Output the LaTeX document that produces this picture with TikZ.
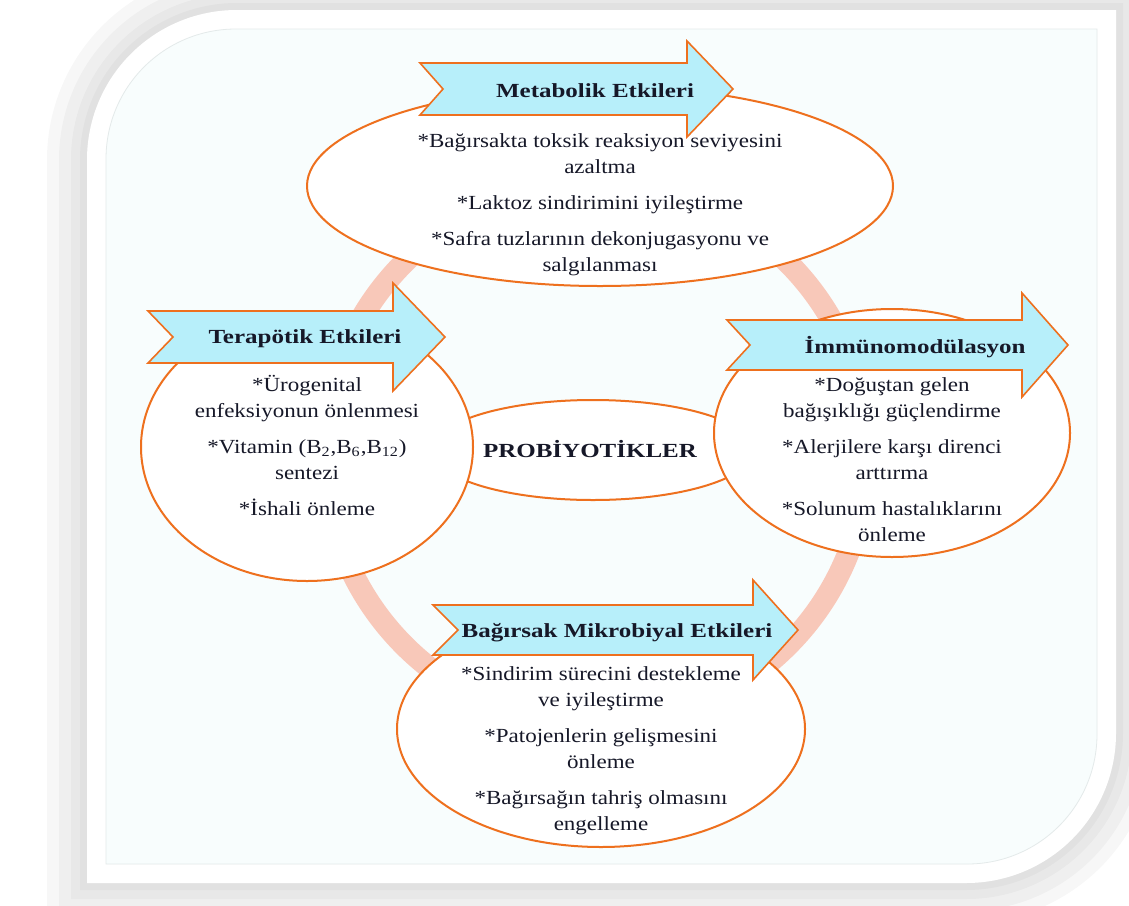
\documentclass[tikz,border=0pt]{standalone}
\usepackage{fontspec}
\setmainfont{Liberation Serif}[FakeStretch=1.15]
\newfontfamily\ttlfont{Liberation Serif}[FakeStretch=1.25]
\usetikzlibrary{shapes.geometric}
\definecolor{cardbg}{RGB}{248,253,253}
\definecolor{cardln}{RGB}{228,234,234}
\definecolor{ringc}{RGB}{248,200,185}
\definecolor{orl}{RGB}{238,112,30}
\definecolor{arrfill}{RGB}{183,239,250}
\definecolor{txtc}{RGB}{22,24,40}
\tikzset{
  ell/.style={ellipse, draw=orl, line width=1pt, fill=white, inner sep=0pt},
  arrowsh/.style={fill=arrfill, draw=orl, line width=0.8pt, line join=miter},
  ttl/.style={font=\ttlfont\bfseries, text=txtc, inner sep=0pt},
  body/.style={align=center, text=txtc, inner sep=0pt},
}
\newcommand\drawbigarrow[7]{%
  \draw[arrowsh] (#1,#5-#6) -- (#3,#5-#6) -- (#3,#5-#7) -- (#4,#5) -- (#3,#5+#7)
    -- (#3,#5+#6) -- (#1,#5+#6) -- (#1+#2,#5) -- cycle;}
\begin{document}
\begin{tikzpicture}[x=0.5pt, y=-0.5pt, font=\fontsize{10}{13}\selectfont]
\useasboundingbox (0,0) rectangle (1129,905);
% shadow
\def\outerpath{(87,883) -- (87,160) .. controls (87,77) and (154,10) .. (237,10) -- (1116,10) -- (1116,733) .. controls (1116,816) and (1049,883) .. (966,883) -- cycle}
\foreach \w in {40,28,16,7}
  \draw[black, opacity=0.03, line width=\w pt] \outerpath;
\fill[white] \outerpath;
\filldraw[fill=cardbg, draw=cardln, line width=0.4pt]
  (106,864) -- (106,159) .. controls (106,87) and (164,29) .. (236,29) -- (1097,29)
  -- (1097,734) .. controls (1097,806) and (1039,864) .. (967,864) -- cycle;
% ring
\node[circle, draw=ringc, line width=11pt, minimum size=271pt, inner sep=0pt] (ring) at (596,454) {};
% ellipses
\node[ell, minimum width=161pt, minimum height=50pt] (center) at (593,450) {};
\node[ell, minimum width=293pt, minimum height=100pt] (met) at (600,186) {};
\node[ell, minimum width=166pt, minimum height=134pt] (ter) at (307,447) {};
\node[ell, minimum width=178pt, minimum height=124pt] (imm) at (892,433) {};
\node[ell, minimum width=204pt, minimum height=118pt] (bag) at (601,729) {};
% arrows
\drawbigarrow{420}{23}{687}{733}{89}{26}{48}
\drawbigarrow{148}{25}{393}{445}{337}{26}{54}
\drawbigarrow{727}{23}{1022}{1068}{345}{25}{52}
\drawbigarrow{433}{25}{753}{798}{630}{25}{50}
% titles
\node[ttl, anchor=base] (tmet) at (595,97) {Metabolik Etkileri};
\node[ttl, anchor=base] (tter) at (305,343) {Terapötik Etkileri};
\node[ttl, anchor=base] (timm) at (915,353) {İmmünomodülasyon};
\node[ttl, anchor=base] (tbag) at (617,637) {Bağırsak Mikrobiyal Etkileri};
\node[ttl, anchor=base] (tpro) at (590,457) {PROBİYOTİKLER};
% body texts (anchor base = baseline of the last line)
\node[body, anchor=base] (bmet) at (600,271) {*Bağırsakta toksik reaksiyon seviyesini\\azaltma\\[5pt]*Laktoz sindirimini iyileştirme\\[5pt]*Safra tuzlarının dekonjugasyonu ve\\salgılanması};
\node[body, anchor=base] (bter) at (307,515) {*Ürogenital\\enfeksiyonun önlenmesi\\[5pt]*Vitamin (B\textsubscript{2},B\textsubscript{6},B\textsubscript{12})\\sentezi\\[5pt]*İshali önleme};
\node[body, anchor=base] (bimm) at (892,541) {*Doğuştan gelen\\bağışıklığı güçlendirme\\[5pt]*Alerjilere karşı direnci\\arttırma\\[5pt]*Solunum hastalıklarını\\önleme};
\node[body, anchor=base] (bbag) at (601,830) {*Sindirim sürecini destekleme\\ve iyileştirme\\[5pt]*Patojenlerin gelişmesini\\önleme\\[5pt]*Bağırsağın tahriş olmasını\\engelleme};
\end{tikzpicture}
\end{document}
